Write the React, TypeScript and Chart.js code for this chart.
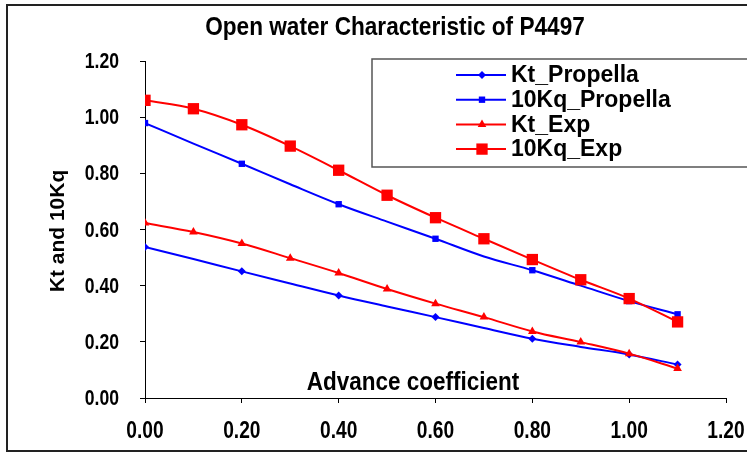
import React, { useEffect, useRef } from "react";
import { Chart, registerables } from "chart.js";

Chart.register(...registerables);

// ---------- data ----------
const advance = [0, 0.1, 0.2, 0.3, 0.4, 0.5, 0.6, 0.7, 0.8, 0.9, 1.0, 1.1];
const ktPropella = [0.538, 0.495, 0.451, 0.408, 0.365, 0.326, 0.288, 0.249, 0.211, 0.182, 0.155, 0.119];
const kq10Propella = [0.979, 0.906, 0.834, 0.761, 0.69, 0.628, 0.567, 0.504, 0.455, 0.4, 0.345, 0.298];
const ktExp = [0.623, 0.591, 0.55, 0.498, 0.445, 0.388, 0.336, 0.288, 0.237, 0.199, 0.158, 0.105];
const kq10Exp = [1.06, 1.03, 0.973, 0.897, 0.811, 0.722, 0.642, 0.567, 0.493, 0.421, 0.354, 0.271];
const propellaMarkers = [true, false, true, false, true, false, true, false, true, false, true, true];

const xTicks = [0, 0.2, 0.4, 0.6, 0.8, 1.0, 1.2];
const yTicks = [0, 0.2, 0.4, 0.6, 0.8, 1.0, 1.2];

const seriesNames = ["Kt_Propella", "10Kq_Propella", "Kt_Exp", "10Kq_Exp"];
const titleText = "Open water Characteristic of P4497";
const xTitleText = "Advance coefficient";
const yTitleText = "Kt and 10Kq";

const SANS = "'Liberation Sans', Arial, sans-serif";

function pts(ys: number[]) {
  return advance.map((x, i) => ({ x, y: ys[i] }));
}

function fmt(v: number) {
  return Number(v).toFixed(2);
}

function narrowText(
  ctx: CanvasRenderingContext2D,
  text: string,
  x: number,
  y: number,
  size: number,
  sx: number,
  align: CanvasTextAlign
) {
  ctx.save();
  ctx.translate(x, y);
  ctx.scale(sx, 1);
  ctx.font = `bold ${size}px ${SANS}`;
  ctx.textAlign = align;
  ctx.textBaseline = "middle";
  ctx.fillStyle = "#000";
  ctx.fillText(text, 0, 0);
  ctx.restore();
}

function drawMarker(ctx: CanvasRenderingContext2D, style: string, x: number, y: number, r: number, color: string) {
  ctx.save();
  ctx.fillStyle = color;
  ctx.beginPath();
  if (style === "rectRot") {
    ctx.moveTo(x, y - r);
    ctx.lineTo(x + r, y);
    ctx.lineTo(x, y + r);
    ctx.lineTo(x - r, y);
    ctx.closePath();
  } else if (style === "rect") {
    const s = r * Math.SQRT1_2;
    ctx.rect(x - s, y - s, 2 * s, 2 * s);
  } else if (style === "triangle") {
    ctx.moveTo(x, y - r);
    ctx.lineTo(x + r * 0.866, y + r * 0.5);
    ctx.lineTo(x - r * 0.866, y + r * 0.5);
    ctx.closePath();
  }
  ctx.fill();
  ctx.restore();
}

const decorPlugin = {
  id: "decor",
  afterDraw(chart: any) {
    const ctx: CanvasRenderingContext2D = chart.ctx;
    const area = chart.chartArea;
    const xs = chart.scales.x;
    const ys = chart.scales.y;
    ctx.save();
    // outer frame
    ctx.strokeStyle = "#222";
    ctx.lineWidth = 2;
    ctx.strokeRect(7, 5, 780, 446);

    // title
    narrowText(ctx, titleText, 395, 28, 26, 0.87, "center");

    // x title (inside plot area)
    narrowText(ctx, xTitleText, 413, area.bottom - 15, 25, 0.9, "center");

    // tick labels (narrow face), positioned by the library's scales
    xs.ticks.forEach((t: any) => {
      narrowText(ctx, fmt(t.value), xs.getPixelForValue(t.value), 431, 24, 0.8, "center");
    });
    ys.ticks.forEach((t: any) => {
      narrowText(ctx, fmt(t.value), 119, ys.getPixelForValue(t.value) + 1, 22, 0.8, "right");
    });

    // y title
    ctx.save();
    ctx.translate(58, 231);
    ctx.rotate(-Math.PI / 2);
    ctx.font = `bold 21px ${SANS}`;
    ctx.textAlign = "center";
    ctx.textBaseline = "middle";
    ctx.fillStyle = "#000";
    ctx.fillText(yTitleText, 0, 0);
    ctx.restore();

    // legend
    const lx = 372, ly = 59, lw = 400, lh = 108;
    ctx.fillStyle = "#fff";
    ctx.fillRect(lx, ly, lw, lh);
    ctx.strokeStyle = "#555";
    ctx.lineWidth = 1.5;
    ctx.strokeRect(lx, ly, lw, lh);
    ctx.font = `bold 23px ${SANS}`;
    ctx.textAlign = "left";
    ctx.textBaseline = "middle";
    chart.data.datasets.forEach((ds: any, i: number) => {
      const y = 75 + i * 24.7;
      ctx.strokeStyle = ds.borderColor;
      ctx.lineWidth = 2;
      ctx.beginPath();
      ctx.moveTo(456, y);
      ctx.lineTo(506, y);
      ctx.stroke();
      const r = Array.isArray(ds.pointRadius) ? Math.max(...ds.pointRadius) : ds.pointRadius;
      drawMarker(ctx, ds.pointStyle, 482, y, r, ds.pointBackgroundColor);
      ctx.fillStyle = "#000";
      ctx.fillText(ds.label, 511, y + 1);
    });
    ctx.restore();
  },
};

export default function App() {
  const ref = useRef<HTMLCanvasElement | null>(null);
  useEffect(() => {
    document.body.style.margin = "0";
    if (!ref.current) return;
    const blue = "#0000FF";
    const red = "#FF0000";
    const chart = new Chart(ref.current, {
      type: "line",
      data: {
        datasets: [
          {
            label: seriesNames[0],
            data: pts(ktPropella),
            borderColor: blue,
            backgroundColor: blue,
            pointBackgroundColor: blue,
            pointBorderWidth: 0,
            pointStyle: "rectRot",
            pointRadius: propellaMarkers.map((m) => (m ? 4 : 0)),
            borderWidth: 2,
            cubicInterpolationMode: "monotone",
            order: 2,
          },
          {
            label: seriesNames[1],
            data: pts(kq10Propella),
            borderColor: blue,
            backgroundColor: blue,
            pointBackgroundColor: blue,
            pointBorderWidth: 0,
            pointStyle: "rect",
            pointRadius: propellaMarkers.map((m) => (m ? 4.5 : 0)),
            borderWidth: 2,
            cubicInterpolationMode: "monotone",
            order: 2,
          },
          {
            label: seriesNames[2],
            data: pts(ktExp),
            borderColor: red,
            backgroundColor: red,
            pointBackgroundColor: red,
            pointBorderWidth: 0,
            pointStyle: "triangle",
            pointRadius: 5,
            borderWidth: 2,
            cubicInterpolationMode: "monotone",
            order: 1,
          },
          {
            label: seriesNames[3],
            data: pts(kq10Exp),
            borderColor: red,
            backgroundColor: red,
            pointBackgroundColor: red,
            pointBorderWidth: 0,
            pointStyle: "rect",
            pointRadius: 8,
            borderWidth: 2,
            cubicInterpolationMode: "monotone",
            order: 1,
          },
        ],
      },
      options: {
        animation: false,
        responsive: false,
        layout: { padding: { left: 0, right: 21, top: 61, bottom: 0 } },
        plugins: { legend: { display: false }, title: { display: false }, tooltip: { enabled: false } },
        scales: {
          x: {
            type: "linear",
            min: 0,
            max: 1.2,
            afterBuildTicks: (s: any) => {
              s.ticks = xTicks.map((v) => ({ value: v }));
            },
            afterFit: (s: any) => {
              s.height = 56;
            },
            grid: { display: true, drawOnChartArea: false, drawTicks: true, tickLength: 5, color: "#000" },
            border: { display: true, color: "#000", width: 1 },
            ticks: { display: false, autoSkip: false, maxRotation: 0, callback: (v: any) => fmt(v) },
          },
          y: {
            type: "linear",
            min: 0,
            max: 1.2,
            afterBuildTicks: (s: any) => {
              s.ticks = yTicks.map((v) => ({ value: v }));
            },
            afterFit: (s: any) => {
              s.width = 145;
            },
            grid: { display: true, drawOnChartArea: false, drawTicks: true, tickLength: 5, color: "#000" },
            border: { display: true, color: "#000", width: 1 },
            ticks: { display: false, callback: (v: any) => fmt(v) },
          },
        },
      },
      plugins: [decorPlugin],
    } as any);
    return () => chart.destroy();
  }, []);
  return (
    <div style={{ width: 747, height: 454 }}>
      <canvas ref={ref} width={747} height={454} />
    </div>
  );
}
